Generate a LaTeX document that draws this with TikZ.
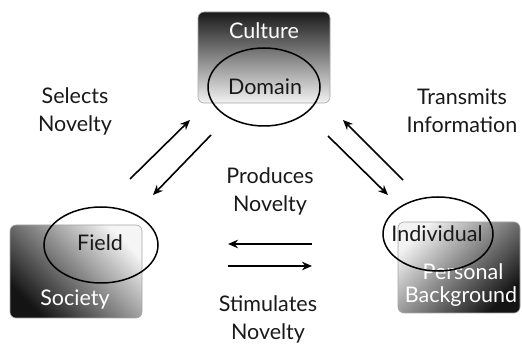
\documentclass[tikz,border=0pt]{standalone}
\usepackage{fontspec}
\setmainfont{Lato}
\usetikzlibrary{arrows.meta,shapes.geometric}
\begin{document}
\begin{tikzpicture}[x=1pt,y=-1pt,
  box/.style={draw=gray!70,rounded corners=6pt,line width=0.6pt},
  lbl/.style={font=\fontsize{21.5}{28}\selectfont,text=black!90,align=center},
  wlbl/.style={font=\fontsize{21.5}{26}\selectfont,text=white,align=center},
  ring/.style={draw=black,line width=1.5pt,ellipse},
  flow/.style={line width=1.6pt,-{Stealth[length=10pt,width=8.5pt]}}]
\useasboundingbox (0,0) rectangle (522,352);

% Culture / Domain
\path[box,top color=black!90,bottom color=black!5] (198,12) rectangle (330,103);
\node[wlbl] (culture) at (264,31) {Culture};
\node[lbl] (domain) at (265,87) {Domain};
\node[ring,minimum width=112pt,minimum height=78pt] (domring) at (264,87) {};

% Society / Field
\path[box,top color=black!4,bottom color=black!92,shading angle=-45] (10,225) rectangle (142,318);
\node[lbl] (field) at (100,243) {Field};
\node[wlbl] (society) at (75,300) {Society};
\node[ring,minimum width=114pt,minimum height=76pt] (fieldring) at (101,245) {};

% Personal Background / Individual
\path[box,top color=black!5,bottom color=black!92,shading angle=45] (398,222) rectangle (520,313);
\node[wlbl] (personal) at (463,272) {Personal};
\node[wlbl] (background) at (461,297) {Background};
\node[lbl] (individual) at (437,234) {Individual};
\node[ring,minimum width=110pt,minimum height=74pt] (indring) at (438,234) {};

% side labels
\node[lbl] (selects) at (75,111) {Selects\\Novelty};
\node[lbl] (transmits) at (462,111) {Transmits\\Information};
\node[lbl] (produces) at (270,191) {Produces\\Novelty};
\node[lbl] (stimulates) at (268,319) {Stimulates\\Novelty};

% arrow end points
\coordinate (fa1) at (130,179); \coordinate (fa2) at (190,120);
\coordinate (fb1) at (211,135); \coordinate (fb2) at (153,195);
\coordinate (ia1) at (328,136); \coordinate (ia2) at (388,195);
\coordinate (ib1) at (403,180); \coordinate (ib2) at (343,120);
\coordinate (ha1) at (312,244); \coordinate (ha2) at (228,244);
\coordinate (hb1) at (228,266); \coordinate (hb2) at (312,266);

\draw[flow] (fa1) -- (fa2);
\draw[flow] (fb1) -- (fb2);
\draw[flow] (ia1) -- (ia2);
\draw[flow] (ib1) -- (ib2);
\draw[flow] (ha1) -- (ha2);
\draw[flow] (hb1) -- (hb2);
\end{tikzpicture}
\end{document}
